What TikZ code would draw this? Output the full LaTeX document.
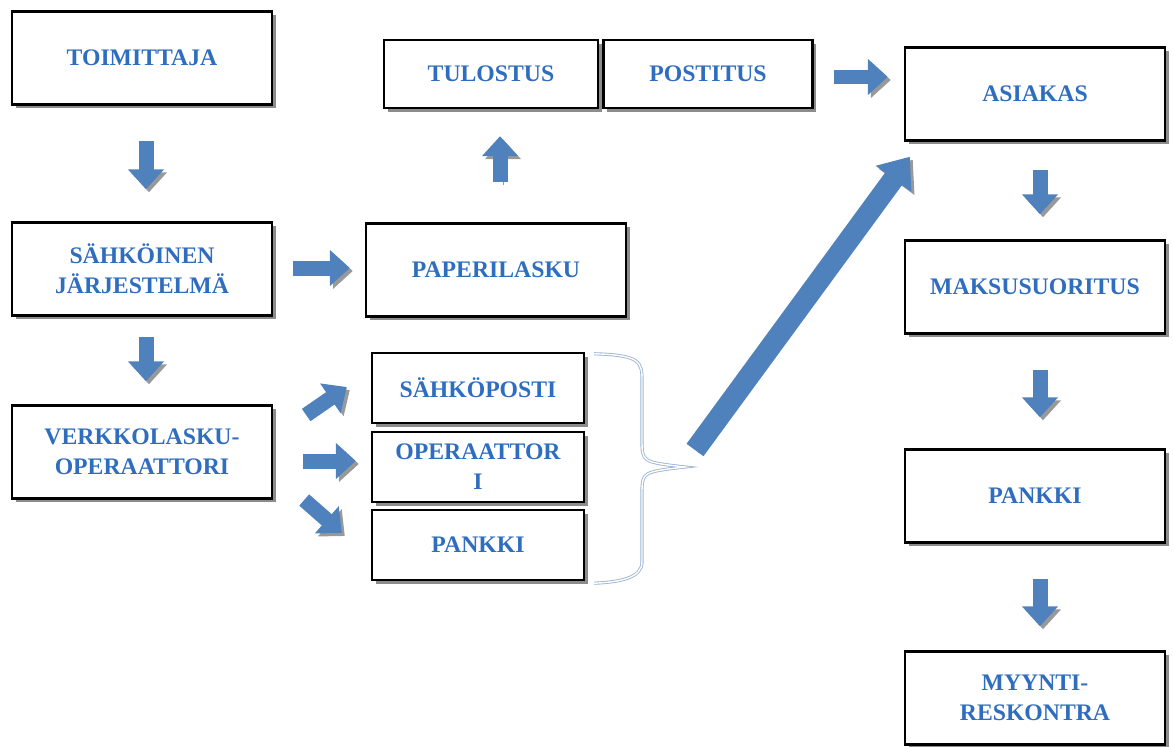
\documentclass[tikz,border=0pt]{standalone}
\usepackage{fontspec}
\setmainfont{Liberation Serif}
\usetikzlibrary{arrows.meta,calc,shadows}
\definecolor{labelblue}{HTML}{2F6DBF}
\definecolor{flowblue}{HTML}{4F81BD}
\definecolor{bracecol}{HTML}{9DB5D3}
\tikzset{
  box/.style={draw=black, line width=1.4pt, fill=white, align=center, text=labelblue,
    font=\fontsize{13.5}{17}\selectfont\bfseries, minimum width=5.2cm, minimum height=1.86cm,
    drop shadow={shadow xshift=2.2pt, shadow yshift=-2.2pt, fill=black!45, opacity=1}},
  smallbox/.style={box, minimum width=4.24cm, minimum height=1.4cm},
  flow/.style={draw=flowblue, line width=0.3cm, -{Triangle[width=0.7cm,length=0.4cm]},
    preaction={draw=black!40, transform canvas={shift={(3,3)}}}},
  brace/.style={draw=bracecol, line width=0.5pt, double=white, double distance=0.8pt}
}
\begin{document}
\begin{tikzpicture}[x=0.02cm,y=-0.02cm]
  \useasboundingbox (0,0) rectangle (1173,747);
  % left column
  \node[box] (toim) at (142,58) {TOIMITTAJA};
  \node[box] (sys) at (142,269) {SÄHKÖINEN\\JÄRJESTELMÄ};
  \node[box] (verk) at (142,452) {VERKKOLASKU-\\OPERAATTORI};
  % middle
  \node[box, minimum width=4.28cm, minimum height=1.36cm] (tulos) at (491,74) {TULOSTUS};
  \node[box, minimum width=4.18cm, minimum height=1.36cm] (posti) at (708,74) {POSTITUS};
  \node[box] (paper) at (496,270) {PAPERILASKU};
  \node[smallbox] (sposti) at (478,388) {SÄHKÖPOSTI};
  \node[smallbox] (oper) at (478,467) {OPERAATTOR\\I};
  \node[smallbox] (pankkia) at (478,545) {PANKKI};
  % right column
  \node[box] (asiakas) at (1035,94) {ASIAKAS};
  \node[box] (maksu) at (1035,287) {MAKSUSUORITUS};
  \node[box] (pankkib) at (1035,496) {PANKKI};
  \node[box] (myynti) at (1035,698) {MYYNTI-\\RESKONTRA};
  % brace
  \coordinate (tip) at (685,467);
  \draw[brace] ($(sposti.north east)+(9,2)$) .. controls (640,355) and (642,362) .. (642,380)
    -- (642,440) .. controls (642,462) .. (tip) .. controls (642,472) .. (642,494)
    -- (642,562) .. controls (642,578) and (620,582) .. ($(pankkia.south east)+(9,2)$);
  % arrows
  \draw[flow] ($(toim.south)+(4,35)$) -- ($(sys.north)+(4,-32)$);
  \draw[flow] ($(sys.south)+(4,20)$) -- ($(verk.north)+(4,-23)$);
  \draw[flow] ($(sys.east)+(20,-1)$) -- ($(paper.west)+(-15,-2)$);
  \draw[flow] ($(paper.north)+(4,-40)$) -- ($(tulos.south)+(9,27)$);
  \draw[flow] ($(posti.east)+(20,3)$) -- ($(asiakas.west)+(-16,-17)$);
  \draw[flow] ($(asiakas.south)+(5,28)$) -- ($(maksu.north)+(5,-25)$);
  \draw[flow] ($(maksu.south)+(5,35)$) -- ($(pankkib.north)+(5,-31)$);
  \draw[flow] ($(pankkib.south)+(5,35)$) -- ($(myynti.north)+(5,-24)$);
  \draw[flow] ($(verk.east)+(33,-37)$) -- ($(sposti.west)+(-24,-1)$);
  \draw[flow] ($(verk.east)+(30,9)$) -- ($(oper.west)+(-15,-6)$);
  \draw[flow] ($(verk.east)+(31,48)$) -- ($(pankkia.west)+(-29,-12)$);
  \draw[flow, line width=0.42cm, -{Triangle[width=0.85cm,length=0.55cm]}]
    ($(tip)+(10,-17)$) -- ($(asiakas.south west)+(6,15)$);
\end{tikzpicture}
\end{document}
